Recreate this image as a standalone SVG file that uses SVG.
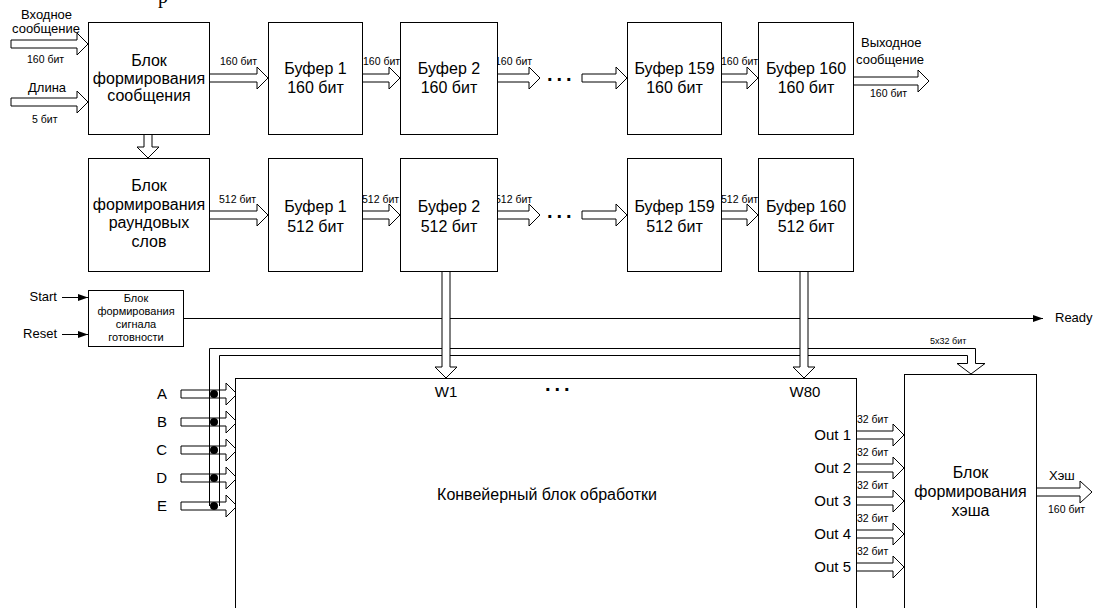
<svg xmlns="http://www.w3.org/2000/svg" width="1097" height="608" viewBox="0 0 1097 608">
<defs>
<marker id="ah" markerWidth="10" markerHeight="7" refX="10" refY="3.5" orient="auto" markerUnits="userSpaceOnUse"><path d="M0,0 L10,3.5 L0,7 z" fill="#000"/></marker>
</defs>
<style>
.box{fill:#fff;stroke:#000;stroke-width:1}
.ba{fill:#fff;stroke:#000;stroke-width:1}
.bus{fill:none;stroke:#000;stroke-width:1}
.ln{fill:none;stroke:#000;stroke-width:1}
text{font-family:"Liberation Sans",Arial,sans-serif;fill:#000}
.big{font-size:16px;text-anchor:middle}
.mid{font-size:15px}
.lab{font-size:13px}
.sm{font-size:10.5px}
.tiny{font-size:11px;text-anchor:middle}
.dots{font-size:20px;font-weight:bold;letter-spacing:4px}
</style>
<rect x="0" y="0" width="1097" height="608" fill="#fff"/>
<text x="158" y="3" style="font-family:'Liberation Serif',serif;font-size:20px">р</text>

<g id="connectors">
  <!-- inputs -->
  <polygon class="ba" points="11,40 77,40 77,33 88,44 77,55 77,48 11,48"/>
  <polygon class="ba" points="11,98 77,98 77,91 88,102 77,113 77,106 11,106"/>
  <!-- row 1 -->
  <polygon class="ba" points="209,74 257,74 257,67 268,78 257,89 257,82 209,82"/>
  <polygon class="ba" points="362,74 389,74 389,67 400,78 389,89 389,82 362,82"/>
  <polygon class="ba" points="497,74 529,74 529,67 540,78 529,89 529,82 497,82"/>
  <polygon class="ba" points="582,74 616,74 616,67 627,78 616,89 616,82 582,82"/>
  <polygon class="ba" points="721,74 747,74 747,67 758,78 747,89 747,82 721,82"/>
  <polygon class="ba" points="853,77 918,77 918,70 929,81 918,92 918,85 853,85"/>
  <!-- down arrow between blocks -->
  <polygon class="ba" points="144,134 144,147 137,147 148,158 159,147 152,147 152,134"/>
  <!-- row 2 -->
  <polygon class="ba" points="209,211 257,211 257,204 268,215 257,226 257,219 209,219"/>
  <polygon class="ba" points="362,211 389,211 389,204 400,215 389,226 389,219 362,219"/>
  <polygon class="ba" points="497,211 529,211 529,204 540,215 529,226 529,219 497,219"/>
  <polygon class="ba" points="582,211 616,211 616,204 627,215 616,226 616,219 582,219"/>
  <polygon class="ba" points="721,211 747,211 747,204 758,215 747,226 747,219 721,219"/>
  <!-- start / reset / ready -->
  <line class="ln" x1="62" y1="297.5" x2="88" y2="297.5" marker-end="url(#ah)"/>
  <line class="ln" x1="62" y1="334.5" x2="88" y2="334.5" marker-end="url(#ah)"/>
  <line class="ln" x1="183" y1="318.5" x2="1043" y2="318.5" marker-end="url(#ah)"/>
  <!-- A-E inputs -->
  <polygon class="ba" points="181,390 226,390 226,383 237,394 226,405 226,398 181,398"/>
  <polygon class="ba" points="181,418 226,418 226,411 237,422 226,433 226,426 181,426"/>
  <polygon class="ba" points="181,446 226,446 226,439 237,450 226,461 226,454 181,454"/>
  <polygon class="ba" points="181,474 226,474 226,467 237,478 226,489 226,482 181,482"/>
  <polygon class="ba" points="181,502 226,502 226,495 237,506 226,517 226,510 181,510"/>
  <!-- bus 5x32 -->
  <polyline class="bus" points="209.5,506 209.5,348.5 975.5,348.5 975.5,363.5 985,363.5 971,374 957,363.5 967.5,363.5 967.5,355.5 219.5,355.5 219.5,506"/>
  <!-- W arrows -->
  <polygon class="ba" points="442,271 442,367 435,367 446,378 457,367 450,367 450,271"/>
  <polygon class="ba" points="800,271 800,367 793,367 804,378 815,367 808,367 808,271"/>
  <!-- junction dots -->
  <circle cx="214" cy="394" r="4" fill="#000"/>
  <circle cx="214" cy="422" r="4" fill="#000"/>
  <circle cx="214" cy="450" r="4" fill="#000"/>
  <circle cx="214" cy="478" r="4" fill="#000"/>
  <circle cx="214" cy="506" r="4" fill="#000"/>
  <!-- Out arrows -->
  <polygon class="ba" points="856,431 893,431 893,424 904,435 893,446 893,439 856,439"/>
  <polygon class="ba" points="856,464 893,464 893,457 904,468 893,479 893,472 856,472"/>
  <polygon class="ba" points="856,497 893,497 893,490 904,501 893,512 893,505 856,505"/>
  <polygon class="ba" points="856,530 893,530 893,523 904,534 893,545 893,538 856,538"/>
  <polygon class="ba" points="856,563 893,563 893,556 904,567 893,578 893,571 856,571"/>
  <!-- hash output -->
  <polygon class="ba" points="1036,488 1080,488 1080,481 1092,492 1080,503 1080,496 1036,496"/>

  <!-- connector labels -->
  <text class="lab" x="21" y="19">Входное</text>
  <text class="lab" x="12" y="33">сообщение</text>
  <text class="sm" x="27" y="63">160 бит</text>
  <text class="lab" x="28" y="92">Длина</text>
  <text class="sm" x="32" y="123">5 бит</text>
  <text class="sm" x="220" y="65">160 бит</text>
  <text class="sm" x="363" y="65">160 бит</text>
  <text class="sm" x="495" y="65">160 бит</text>
  <text class="sm" x="721" y="65">160 бит</text>
  <text class="lab" x="861" y="47">Выходное</text>
  <text class="lab" x="856" y="64">сообщение</text>
  <text class="sm" x="870" y="97">160 бит</text>
  <text class="dots" x="547" y="81">...</text>
  <text class="sm" x="219" y="203">512 бит</text>
  <text class="sm" x="362" y="203">512 бит</text>
  <text class="sm" x="495" y="203">512 бит</text>
  <text class="sm" x="721" y="203">512 бит</text>
  <text class="dots" x="547" y="218">...</text>
  <text class="lab" x="57" y="301" text-anchor="end">Start</text>
  <text class="lab" x="57" y="338" text-anchor="end">Reset</text>
  <text class="lab" x="1055" y="322">Ready</text>
  <text style="font-size:9px" x="930" y="344">5x32 бит</text>
  <text class="mid" x="167" y="399" text-anchor="end">A</text>
  <text class="mid" x="167" y="427" text-anchor="end">B</text>
  <text class="mid" x="167" y="455" text-anchor="end">C</text>
  <text class="mid" x="167" y="483" text-anchor="end">D</text>
  <text class="mid" x="167" y="511" text-anchor="end">E</text>
  <text class="sm" x="857" y="423">32 бит</text>
  <text class="sm" x="857" y="456">32 бит</text>
  <text class="sm" x="857" y="489">32 бит</text>
  <text class="sm" x="857" y="522">32 бит</text>
  <text class="sm" x="857" y="555">32 бит</text>
  <text class="lab" x="1049" y="480">Хэш</text>
  <text class="sm" x="1048" y="513">160 бит</text>
</g>

<g id="msgBlock">
  <rect class="box" x="88.5" y="22.5" width="121" height="112"/>
  <text class="big" x="149" y="66">Блок</text>
  <text class="big" x="149" y="83.5">формирования</text>
  <text class="big" x="149" y="101">сообщения</text>
</g>
<g id="buf1_160">
  <rect class="box" x="268.5" y="22.5" width="94" height="112"/>
  <text class="big" x="315.5" y="73.5">Буфер 1</text>
  <text class="big" x="315.5" y="92.5">160 бит</text>
</g>
<g id="buf2_160">
  <rect class="box" x="400.5" y="22.5" width="97" height="112"/>
  <text class="big" x="449" y="73.5">Буфер 2</text>
  <text class="big" x="449" y="92.5">160 бит</text>
</g>
<g id="buf159_160">
  <rect class="box" x="627.5" y="22.5" width="94" height="112"/>
  <text class="big" x="674.5" y="73.5">Буфер 159</text>
  <text class="big" x="674.5" y="92.5">160 бит</text>
</g>
<g id="buf160_160">
  <rect class="box" x="758.5" y="22.5" width="95" height="112"/>
  <text class="big" x="806" y="73.5">Буфер 160</text>
  <text class="big" x="806" y="92.5">160 бит</text>
</g>

<g id="roundBlock">
  <rect class="box" x="88.5" y="158.5" width="121" height="113"/>
  <text class="big" x="149" y="191">Блок</text>
  <text class="big" x="149" y="209.5">формирования</text>
  <text class="big" x="149" y="228">раундовых</text>
  <text class="big" x="149" y="246.5">слов</text>
</g>
<g id="buf1_512">
  <rect class="box" x="268.5" y="158.5" width="94" height="113"/>
  <text class="big" x="315.5" y="212">Буфер 1</text>
  <text class="big" x="315.5" y="232">512 бит</text>
</g>
<g id="buf2_512">
  <rect class="box" x="400.5" y="158.5" width="97" height="113"/>
  <text class="big" x="449" y="212">Буфер 2</text>
  <text class="big" x="449" y="232">512 бит</text>
</g>
<g id="buf159_512">
  <rect class="box" x="627.5" y="158.5" width="94" height="113"/>
  <text class="big" x="674.5" y="212">Буфер 159</text>
  <text class="big" x="674.5" y="232">512 бит</text>
</g>
<g id="buf160_512">
  <rect class="box" x="758.5" y="158.5" width="95" height="113"/>
  <text class="big" x="806" y="212">Буфер 160</text>
  <text class="big" x="806" y="232">512 бит</text>
</g>

<g id="readyBlock">
  <rect class="box" x="88.5" y="290.5" width="95" height="56"/>
  <text class="tiny" x="136" y="302">Блок</text>
  <text class="tiny" x="136" y="315">формирования</text>
  <text class="tiny" x="136" y="328">сигнала</text>
  <text class="tiny" x="136" y="341">готовности</text>
</g>

<g id="pipelineBlock">
  <rect class="box" x="235.5" y="378.5" width="621" height="250"/>
  <text class="mid" x="446" y="397" text-anchor="middle">W1</text>
  <text class="dots" x="545" y="391">...</text>
  <text class="mid" x="805" y="397" text-anchor="middle">W80</text>
  <text class="big" x="547" y="500">Конвейерный блок обработки</text>
  <text class="mid" x="851" y="440" text-anchor="end">Out 1</text>
  <text class="mid" x="851" y="473" text-anchor="end">Out 2</text>
  <text class="mid" x="851" y="506" text-anchor="end">Out 3</text>
  <text class="mid" x="851" y="539" text-anchor="end">Out 4</text>
  <text class="mid" x="851" y="572" text-anchor="end">Out 5</text>
</g>

<g id="hashBlock">
  <rect class="box" x="904.5" y="374.5" width="132" height="250"/>
  <text class="big" x="970.5" y="478">Блок</text>
  <text class="big" x="970.5" y="497">формирования</text>
  <text class="big" x="970.5" y="516">хэша</text>
</g>
</svg>
